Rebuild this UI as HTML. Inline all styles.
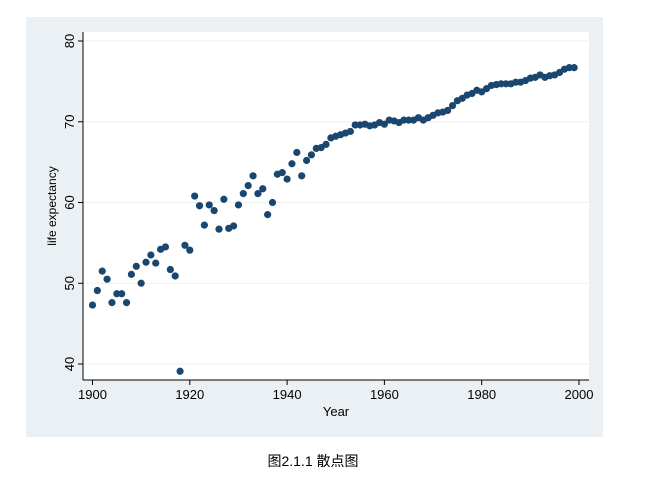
<!DOCTYPE html>
<html><head><meta charset="utf-8"><style>
body{margin:0;background:#fff;width:654px;height:484px;overflow:hidden}
svg{display:block}
</style></head><body>
<svg id="s" width="654" height="484" xmlns="http://www.w3.org/2000/svg" font-family="Liberation Sans, sans-serif">
<rect x="26" y="17" width="577" height="420" fill="#eaf0f3"/>
<rect x="83" y="32" width="506" height="348" fill="#fff"/>
<g id="grid" stroke="#eaf0f3" stroke-width="1"></g>
<line x1="83" y1="32" x2="83" y2="380" stroke="#000" stroke-width="1"/>
<line x1="83" y1="380" x2="589" y2="380" stroke="#000" stroke-width="1"/>
<g id="ticks" stroke="#000"></g>
<g id="labels" font-size="13" fill="#000"></g>
<text x="336" y="416" font-size="13" text-anchor="middle">Year</text>
<text transform="translate(56,206) rotate(-90)" font-size="12" text-anchor="middle">life expectancy</text>
<g id="pts" fill="#1a476f"></g>
<text x="313" y="466" font-size="14" text-anchor="middle" font-family="Liberation Sans, Noto Sans CJK SC, sans-serif">图2.1.1 散点图</text>
</svg>
<script>
var NS="http://www.w3.org/2000/svg";
function X(y){return 92.5+(y-1900)*4.865}
function Y(v){return 364-(v-40)*8.075}
function el(p,t,a,txt){var e=document.createElementNS(NS,t);for(var k in a)e.setAttribute(k,a[k]);if(txt)e.textContent=txt;document.getElementById(p).appendChild(e);}
[40,50,60,70,80].forEach(function(v){var y=Y(v);
el("grid","line",{x1:84,x2:589,y1:y,y2:y});
el("ticks","line",{x1:78,x2:83,y1:y,y2:y});
el("labels","text",{transform:"translate(74,"+y+") rotate(-90)","text-anchor":"middle"},String(v));});
[1900,1920,1940,1960,1980,2000].forEach(function(t){var x=X(t);
el("ticks","line",{x1:x,x2:x,y1:380,y2:385});
el("labels","text",{x:x,y:399,"text-anchor":"middle"},String(t));});
var d=[47.3,49.1,51.5,50.5,47.6,48.7,48.7,47.6,51.1,52.1,50.0,52.6,53.5,52.5,54.2,54.5,51.7,50.9,39.1,54.7,54.1,60.8,59.6,57.2,59.7,59.0,56.7,60.4,56.8,57.1,59.7,61.1,62.1,63.3,61.1,61.7,58.5,60.0,63.5,63.7,62.9,64.8,66.2,63.3,65.2,65.9,66.7,66.8,67.2,68.0,68.2,68.4,68.6,68.8,69.6,69.6,69.7,69.5,69.6,69.9,69.7,70.2,70.1,69.9,70.2,70.2,70.2,70.5,70.2,70.5,70.8,71.1,71.2,71.4,72.0,72.6,72.9,73.3,73.5,73.9,73.7,74.1,74.5,74.6,74.7,74.7,74.7,74.9,74.9,75.1,75.4,75.5,75.8,75.5,75.7,75.8,76.1,76.5,76.7,76.7];
d.forEach(function(v,i){el("pts","circle",{cx:X(1900+i),cy:Y(v),r:3.6});});
</script>
</body></html>
